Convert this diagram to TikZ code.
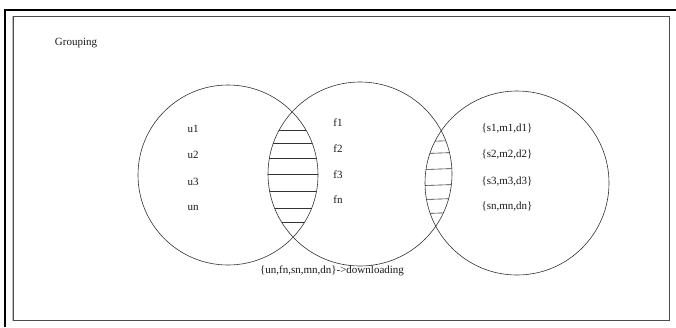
\documentclass[tikz,border=0pt]{standalone}
\usepackage{fontspec}
\setmainfont{Liberation Serif}
\begin{document}
\begin{tikzpicture}[x=1pt,y=-1pt,
  lbl/.style={font=\fontsize{11}{13}\selectfont, inner sep=0pt, text=black!90},
  venn/.style={draw=black!80, line width=0.6pt},
  hatchline/.style={draw=black!80, line width=0.6pt}]
\useasboundingbox (0,0) rectangle (676,327);
\fill[white] (0,0) rectangle (676,327);

% window frame
\draw[line width=2.5pt] (4,10) -- (676,10);
\draw[line width=2.5pt] (5.2,8.75) -- (5.2,327);
\draw[black!25, line width=0.8pt] (12,16) -- (12,321);
\draw[black!70, line width=0.9pt] (13.8,16) rectangle (669.5,320.7);

% set centres
\coordinate (cu) at (228,175);
\coordinate (cf) at (360,174);
\coordinate (cs) at (517,183);

% hatched overlap: users / files
\begin{scope}
  \clip (cu) circle[radius=90pt];
  \clip (cf) circle[radius=92pt];
  \foreach \yy in {130,143,158,174,191,208,222}
    \draw[hatchline] (255,\yy) -- (335,\yy);
\end{scope}

% hatched overlap: files / servers
\begin{scope}
  \clip (cf) circle[radius=92pt];
  \clip (cs) circle[radius=92pt];
  \foreach \yy in {141,153,169,185,199,213}
    \draw[hatchline] (415,\yy+0.8) -- (465,\yy-0.8);
\end{scope}

% the three sets
\draw[venn] (cu) circle[radius=90pt];
\draw[venn] (cf) circle[radius=92pt];
\draw[venn] (cs) circle[radius=92pt];

% labels
\node[lbl] (title) at (76,43) {Grouping};

\node[lbl] (u1) at (193,129) {u1};
\node[lbl] (u2) at (193,155) {u2};
\node[lbl] (u3) at (193,182) {u3};
\node[lbl] (un) at (193,208) {un};

\node[lbl] (f1) at (338,123) {f1};
\node[lbl] (f2) at (338,149) {f2};
\node[lbl] (f3) at (338,175) {f3};
\node[lbl] (fn) at (338,200) {fn};

\node[lbl] (s1) at (507,129) {\{s1,m1,d1\}};
\node[lbl] (s2) at (507,155) {\{s2,m2,d2\}};
\node[lbl] (s3) at (507,182) {\{s3,m3,d3\}};
\node[lbl] (sn) at (507,207) {\{sn,mn,dn\}};

\node[lbl] (result) at (332,271) {\{un,fn,sn,mn,dn\}->downloading};
\end{tikzpicture}
\end{document}
